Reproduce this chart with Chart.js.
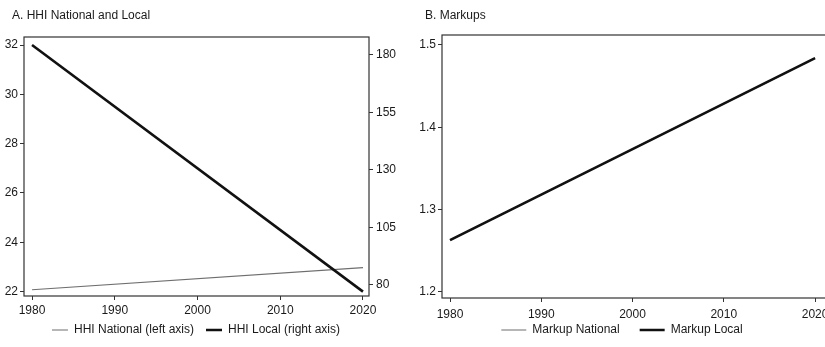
<!DOCTYPE html>
<html>
<head>
<meta charset="utf-8">
<script src="https://cdn.jsdelivr.net/npm/chart.js@4/dist/chart.umd.min.js"></script>
<style>
html,body{margin:0;padding:0;background:#fff;overflow:hidden;width:825px;height:347px;}
#wa{position:absolute;left:0;top:0;width:415px;height:347px;}
#wb{position:absolute;left:415px;top:0;width:411px;height:347px;}
</style>
</head>
<body>
<div id="wa"><canvas id="ca"></canvas></div>
<div id="wb"><canvas id="cb"></canvas></div>
<script>
// ---- data ----
const years = [1980, 2020];
const hhiNational = [22.07, 22.97];
const hhiLocal = [184.3, 77.1];
const markupNational = [1.263, 1.484];
const markupLocal = [1.263, 1.484];
const xTicks = [1980, 1990, 2000, 2010, 2020];
const hhiLeftTicks = [22, 24, 26, 28, 30, 32];
const hhiRightTicks = [80, 105, 130, 155, 180];
const markupTicks = [1.2, 1.3, 1.4, 1.5];
const titleA = 'A. HHI National and Local';
const titleB = 'B. Markups';
const labelsA = ['HHI National (left axis)', 'HHI Local (right axis)'];
const labelsB = ['Markup National', 'Markup Local'];

Chart.defaults.font.family = "'Liberation Sans', Arial, sans-serif";
Chart.defaults.font.size = 12;
Chart.defaults.color = '#1a1a1a';

const pts = (ys) => years.map((x, i) => ({x: x, y: ys[i]}));
const setTicks = (arr) => (scale) => { scale.ticks = arr.map(v => ({value: v})); };
const fixW = (w) => (scale) => { scale.width = w; };
const fixX = (h) => (scale) => { scale.height = h; scale.paddingLeft = 0; scale.paddingRight = 0; };

const frame = {
  id: 'frame',
  afterDraw(chart) {
    const a = chart.chartArea, ctx = chart.ctx;
    ctx.save();
    ctx.strokeStyle = '#333';
    ctx.lineWidth = 1.2;
    ctx.strokeRect(a.left, a.top, a.right - a.left, a.bottom - a.top);
    ctx.restore();
  }
};

// placement helper: fixes legend height, moves title and legend
const placer = (cfg) => ({
  id: 'placer',
  afterInit(chart) {
    const lg = chart.legend;
    const orig = lg.fit.bind(lg);
    lg.fit = function () { orig(); this.height = cfg.legendH; };
  },
  afterLayout(chart) {
    const t = chart.titleBlock;
    if (t) { const w = t.right - t.left; t.left = cfg.titleX; t.right = t.left + w; }
    const lg = chart.legend;
    lg.height = 43;
    lg.top = cfg.legendTop; lg.bottom = lg.top + lg.height;
    const dx = cfg.legendCenter - (lg.left + lg.right) / 2;
    lg.left += dx; lg.right += dx;
  }
});

const gridOpts = {display: true, drawOnChartArea: false, drawTicks: true, tickLength: 4, tickColor: '#333'};
const fmt = (d) => (v) => Number(v).toFixed(d);
const sortIdx = (a, b) => a.datasetIndex - b.datasetIndex;

new Chart(document.getElementById('ca'), {
  type: 'line',
  data: {
    datasets: [
      {label: labelsA[0], data: pts(hhiNational), yAxisID: 'y', order: 1, borderColor: '#6e6e6e', borderWidth: 1.2, pointRadius: 0, tension: 0},
      {label: labelsA[1], data: pts(hhiLocal), yAxisID: 'y1', order: 0, borderColor: '#111', borderWidth: 2.6, pointRadius: 0, tension: 0}
    ]
  },
  options: {
    responsive: true, maintainAspectRatio: false, animation: false,
    layout: {padding: {left: 0, right: 0, top: 0, bottom: 1}},
    plugins: {
      title: {display: true, text: titleA, align: 'start', font: {size: 12, weight: 'normal'}, color: '#1a1a1a', padding: {top: 8, bottom: 14.6}},
      legend: {position: 'bottom', labels: {usePointStyle: true, pointStyle: 'line', pointStyleWidth: 16, padding: 12, sort: sortIdx, color: '#1a1a1a', font: {size: 12}}},
      tooltip: {enabled: false}
    },
    scales: {
      x: {type: 'linear', min: 1979.03, max: 2020.73, afterBuildTicks: setTicks(xTicks), afterFit: fixX(22),
          grid: gridOpts, border: {display: false}, ticks: {padding: 3, callback: fmt(0)}},
      y: {type: 'linear', position: 'left', min: 21.817, max: 32.325, afterBuildTicks: setTicks(hhiLeftTicks), afterFit: fixW(24),
          grid: gridOpts, border: {display: false}, ticks: {padding: 2, callback: fmt(0)}},
      y1: {type: 'linear', position: 'right', min: 75.2, max: 187.8, afterBuildTicks: setTicks(hhiRightTicks), afterFit: fixW(46),
          grid: gridOpts, border: {display: false}, ticks: {padding: 3, callback: fmt(0)}}
    }
  },
  plugins: [frame, placer({legendH: 28, titleX: 12, legendTop: 312, legendCenter: 196})]
});

new Chart(document.getElementById('cb'), {
  type: 'line',
  data: {
    datasets: [
      {label: labelsB[0], data: pts(markupNational), order: 1, borderColor: '#6e6e6e', borderWidth: 1.2, pointRadius: 0, tension: 0},
      {label: labelsB[1], data: pts(markupLocal), order: 0, borderColor: '#111', borderWidth: 2.6, pointRadius: 0, tension: 0}
    ]
  },
  options: {
    responsive: true, maintainAspectRatio: false, animation: false,
    layout: {padding: {left: 0, right: 0, top: 0, bottom: 0}},
    plugins: {
      title: {display: true, text: titleB, align: 'start', font: {size: 12, weight: 'normal'}, color: '#1a1a1a', padding: {top: 8, bottom: 12.6}},
      legend: {position: 'bottom', labels: {usePointStyle: true, pointStyle: 'line', pointStyleWidth: 25, padding: 20, sort: sortIdx, color: '#1a1a1a', font: {size: 12}}},
      tooltip: {enabled: false}
    },
    scales: {
      x: {type: 'linear', min: 1979.12, max: 2021.2, afterBuildTicks: setTicks(xTicks), afterFit: fixX(21),
          grid: gridOpts, border: {display: false}, ticks: {padding: 5, callback: fmt(0)}},
      y: {type: 'linear', position: 'left', min: 1.1927, max: 1.5121, afterBuildTicks: setTicks(markupTicks), afterFit: fixW(27),
          grid: gridOpts, border: {display: false}, ticks: {padding: 2, callback: fmt(1)}}
    }
  },
  plugins: [frame, placer({legendH: 28, titleX: 10, legendTop: 304, legendCenter: 207})]
});
</script>
</body>
</html>
